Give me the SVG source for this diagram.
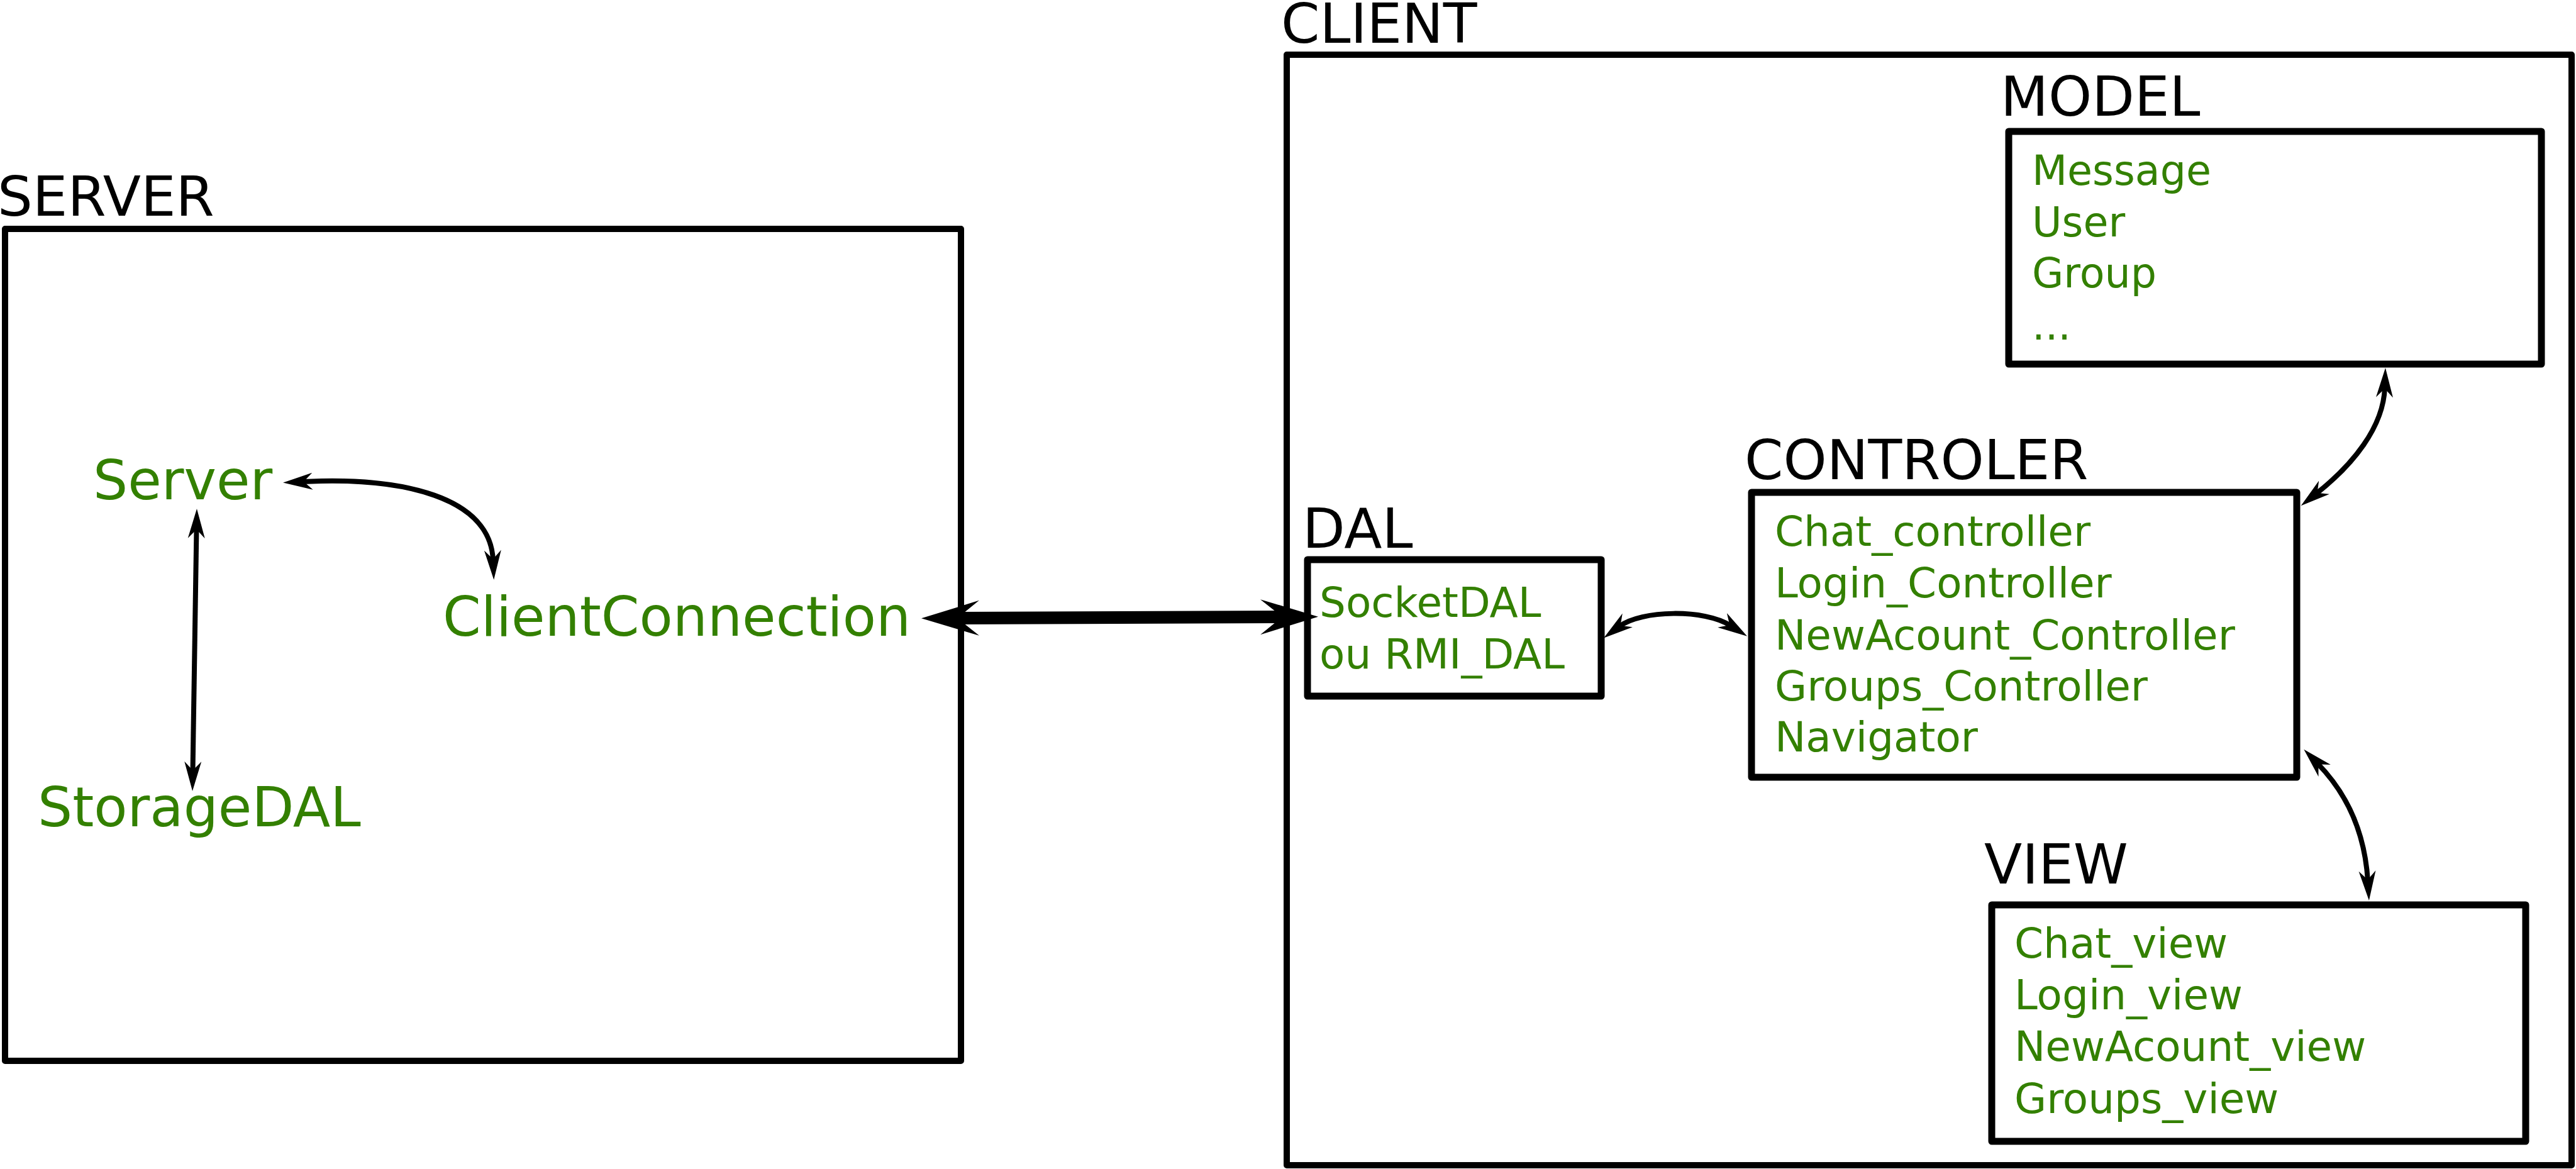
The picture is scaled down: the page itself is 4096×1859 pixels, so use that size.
<svg xmlns="http://www.w3.org/2000/svg" width="4096" height="1859" viewBox="0 0 4096 1859">
<style>
.box{fill:none;stroke:#000;stroke-linejoin:round}
.outer{stroke-width:10}
.inner{stroke-width:11}
.hdr{font-family:"DejaVu Sans",sans-serif;font-size:88px;fill:#000}
.big{font-family:"DejaVu Sans",sans-serif;font-size:87px;fill:#338000}
.item{font-family:"DejaVu Sans",sans-serif;font-size:66px;fill:#338000}
.conn{fill:none;stroke:#000;stroke-width:8;marker-start:url(#ah);marker-end:url(#ah)}
.thick{fill:none;stroke:#000;stroke-width:20;marker-start:url(#ahb);marker-end:url(#ahb)}
</style>
<defs>
<marker id="ah" markerUnits="userSpaceOnUse" markerWidth="48" markerHeight="28" viewBox="0 -14 48 28" refX="16" refY="0" orient="auto-start-reverse">
<path d="M47,0 L0,-13.5 L14,0 L0,13.5 Z" fill="#000"/>
</marker>
<marker id="ahb" markerUnits="userSpaceOnUse" markerWidth="93" markerHeight="58" viewBox="0 -29 93 58" refX="37" refY="0" orient="auto-start-reverse">
<path d="M92,0 L0,-28 L35,0 L0,28 Z" fill="#000"/>
</marker>
</defs>
<rect width="4096" height="1859" fill="#fff"/>

<g id="server">
<rect class="box outer" x="8" y="364" width="1520" height="1323"/>
<text class="hdr" x="-4" y="343">SERVER</text>
</g>
<g id="server-node"><text class="big" x="148" y="794">Server</text></g>
<g id="clientconnection"><text class="big" x="704" y="1011">ClientConnection</text></g>
<g id="storagedal"><text class="big" x="60" y="1314">StorageDAL</text></g>

<g id="client">
<rect class="box outer" x="2046" y="87" width="2043" height="1766"/>
<text class="hdr" x="2037" y="68">CLIENT</text>
</g>

<g id="model">
<rect class="box inner" x="3194" y="209" width="847" height="370"/>
<text class="hdr" x="3181" y="184">MODEL</text>
<text class="item" style="font-size:65px" x="3231" y="294">Message</text>
<text class="item" style="font-size:65px" x="3231" y="376">User</text>
<text class="item" style="font-size:65px" x="3231" y="457">Group</text>
<text class="item" style="font-size:65px" x="3231" y="540">...</text>
</g>

<g id="controler">
<rect class="box inner" x="2785" y="783" width="867" height="453"/>
<text class="hdr" x="2774" y="762">CONTROLER</text>
<text class="item" x="2822" y="868">Chat_controller</text>
<text class="item" x="2822" y="950">Login_Controller</text>
<text class="item" x="2822" y="1033">NewAcount_Controller</text>
<text class="item" x="2822" y="1114">Groups_Controller</text>
<text class="item" x="2822" y="1195">Navigator</text>
</g>

<g id="dal">
<rect class="box inner" x="2079" y="890" width="467" height="217"/>
<text class="hdr" x="2071" y="871">DAL</text>
<text class="item" x="2098" y="981">SocketDAL</text>
<text class="item" x="2098" y="1063">ou RMI_DAL</text>
</g>

<g id="view">
<rect class="box inner" x="3167" y="1439" width="849" height="376"/>
<text class="hdr" x="3155" y="1405">VIEW</text>
<text class="item" x="3203" y="1523">Chat_view</text>
<text class="item" x="3203" y="1605">Login_view</text>
<text class="item" x="3203" y="1687">NewAcount_view</text>
<text class="item" x="3203" y="1770">Groups_view</text>
</g>

<g id="connectors">
<path class="conn" d="M481,766 C640,758 780,790 784,891"/>
<path class="conn" d="M312.5,840 L306.5,1227"/>
<path class="thick" d="M1520,983 L2041,981"/>
<path class="conn" d="M2575,996 C2610,970 2710,968 2752,995"/>
<path class="conn" d="M3792,616 C3790,680 3740,740 3683,785"/>
<path class="conn" d="M3685,1214 C3730,1260 3760,1320 3765,1401"/>
</g>
</svg>
